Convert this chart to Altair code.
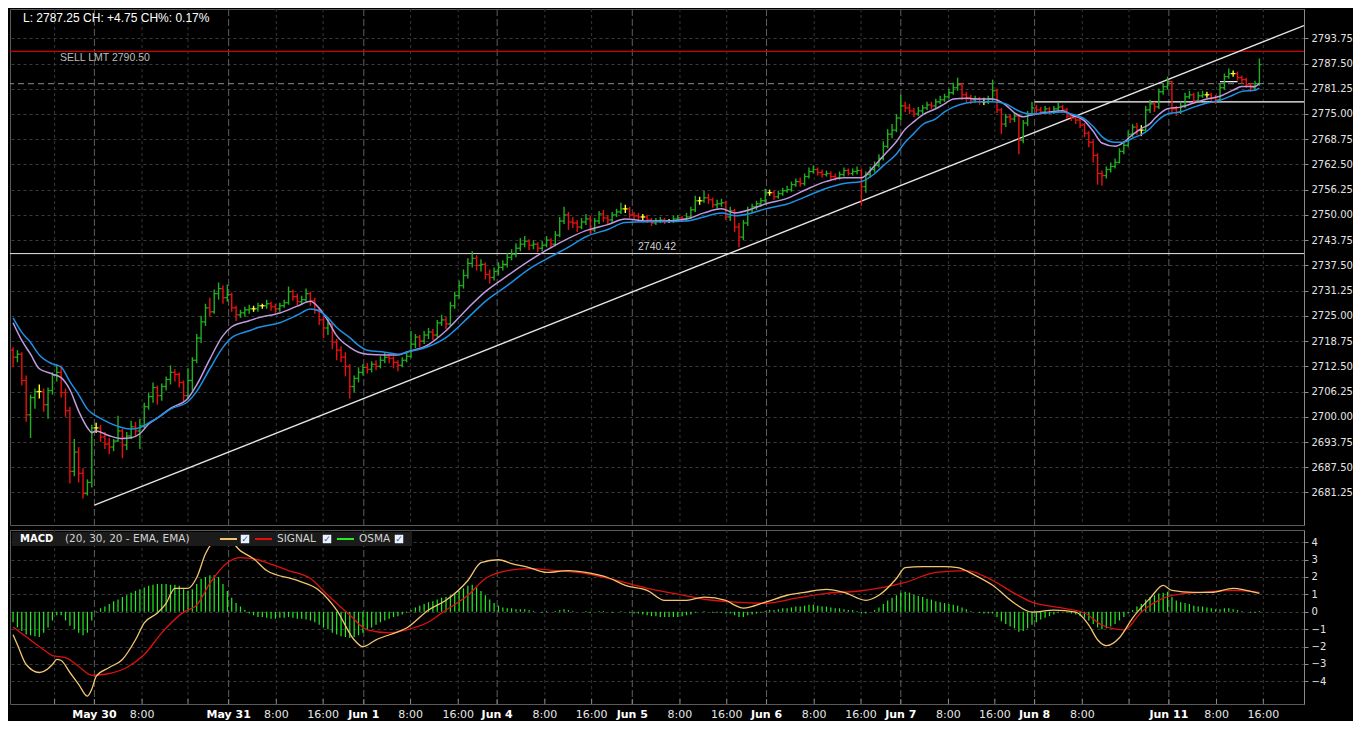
import altair as alt
import pandas as pd

# ------------------------------------------------------------------ data
first_open = 2716.5
close = [
    2714.75, 2715.5, 2709.0, 2700.5, 2704.75, 2706.25, 2706.25, 2703.0, 2706.5, 2710.25,
    2711.0, 2706.0, 2701.5, 2686.5, 2691.25, 2686.0, 2681.0, 2683.75, 2697.25, 2697.25,
    2695.0, 2693.25, 2692.5, 2694.0, 2696.5, 2693.0, 2695.25, 2697.5, 2696.5, 2697.75,
    2702.5, 2705.0, 2707.25, 2705.25, 2707.5, 2709.25, 2711.0, 2710.5, 2708.5, 2705.25,
    2709.0, 2714.0, 2719.5, 2723.5, 2727.0, 2726.0, 2730.5, 2731.75, 2729.5, 2730.25,
    2727.0, 2725.25, 2725.75, 2726.5, 2726.75, 2726.75, 2727.5, 2727.5, 2728.0, 2727.25,
    2726.75, 2727.5, 2728.25, 2731.0, 2729.75, 2728.5, 2729.0, 2730.5, 2728.75, 2726.5,
    2724.0, 2722.0, 2723.0, 2718.5, 2716.5, 2714.75, 2712.5, 2707.5, 2709.5, 2711.0,
    2712.25, 2711.75, 2713.0, 2712.5, 2714.0, 2714.75, 2714.5, 2713.5, 2712.75, 2714.0,
    2715.0, 2718.0, 2719.75, 2718.75, 2720.25, 2721.0, 2720.25, 2723.25, 2724.0, 2723.0,
    2727.5, 2730.0, 2732.5, 2735.0, 2738.0, 2739.25, 2737.5, 2737.75, 2735.25, 2734.5,
    2736.0, 2737.0, 2737.75, 2739.5, 2740.25, 2741.75, 2742.75, 2743.5, 2742.5, 2742.75,
    2741.75, 2742.5, 2743.75, 2742.75, 2745.0, 2748.5, 2750.0, 2748.25, 2748.0, 2747.0,
    2748.25, 2749.0, 2746.25, 2748.5, 2750.25, 2749.25, 2748.75, 2750.0, 2750.75, 2751.5,
    2751.5, 2750.0, 2749.75, 2749.5, 2749.5, 2748.75, 2748.0, 2748.5, 2748.75, 2748.5,
    2748.5, 2749.0, 2749.25, 2749.0, 2749.5, 2751.25, 2753.5, 2753.5, 2754.25, 2753.75,
    2752.5, 2752.75, 2753.0, 2749.5, 2751.0, 2747.0, 2744.5, 2748.0, 2751.25, 2752.0,
    2752.75, 2753.5, 2755.5, 2755.5, 2754.5, 2755.25, 2756.0, 2756.25, 2757.5, 2758.25,
    2757.75, 2759.5, 2760.75, 2761.25, 2760.5, 2760.0, 2760.25, 2759.5, 2759.25, 2760.0,
    2761.0, 2760.25, 2760.75, 2761.0, 2757.0, 2760.0, 2761.25, 2762.25, 2764.0, 2767.0,
    2770.0, 2771.0, 2774.0, 2777.0, 2776.5, 2775.75, 2775.0, 2775.75, 2776.5, 2777.25,
    2777.0, 2778.0, 2778.5, 2779.25, 2780.25, 2781.5, 2782.25, 2779.75, 2779.0, 2778.5,
    2778.75, 2778.0, 2778.0, 2778.75, 2780.75, 2776.0, 2772.5, 2774.25, 2773.75, 2774.5,
    2768.5, 2772.75, 2775.0, 2776.5, 2776.0, 2775.5, 2776.25, 2775.5, 2776.25, 2776.75,
    2776.0, 2774.5, 2774.0, 2773.5, 2772.25, 2770.25, 2768.0, 2764.75, 2760.25, 2759.75,
    2761.25, 2762.0, 2763.0, 2765.75, 2767.25, 2770.0, 2771.75, 2771.0, 2771.0, 2776.0,
    2777.5, 2776.75, 2780.5, 2781.75, 2783.0, 2776.25, 2775.5, 2777.0, 2779.25, 2779.75,
    2778.25, 2779.5, 2779.75, 2779.75, 2779.0, 2778.5, 2781.5, 2784.25, 2785.0, 2785.0,
    2784.0, 2783.5, 2782.25, 2781.5, 2782.5, 2787.25,
]
high = [
    2717.25, 2716.5, 2716.0, 2710.25, 2705.5, 2707.0, 2708.0, 2707.0, 2707.25, 2711.0,
    2713.0, 2712.75, 2707.0, 2702.5, 2694.5, 2692.5, 2687.25, 2684.5, 2698.0, 2698.5,
    2698.0, 2696.25, 2694.75, 2694.5, 2700.25, 2697.0, 2696.25, 2699.0, 2698.75, 2699.5,
    2703.5, 2706.0, 2708.5, 2707.75, 2708.25, 2710.0, 2712.75, 2711.75, 2711.0, 2709.0,
    2712.0, 2714.75, 2720.5, 2725.0, 2728.0, 2729.5, 2731.5, 2733.25, 2732.5, 2732.75,
    2730.75, 2727.5, 2726.5, 2727.25, 2727.75, 2727.5, 2728.25, 2728.0, 2729.0, 2728.5,
    2728.0, 2728.25, 2729.0, 2732.25, 2731.5, 2730.5, 2730.0, 2731.75, 2731.0, 2729.5,
    2727.0, 2725.0, 2724.25, 2723.5, 2719.25, 2717.5, 2716.0, 2713.0, 2710.25, 2712.25,
    2713.0, 2713.25, 2713.75, 2714.0, 2715.0, 2716.0, 2715.5, 2715.0, 2714.0, 2714.75,
    2716.25, 2721.25, 2720.5, 2720.25, 2721.25, 2722.0, 2721.75, 2724.0, 2725.25, 2724.75,
    2728.5, 2731.0, 2733.75, 2736.5, 2739.25, 2741.0, 2740.0, 2739.0, 2738.25, 2736.5,
    2737.0, 2738.25, 2738.75, 2740.5, 2741.5, 2743.0, 2744.25, 2744.75, 2744.0, 2743.75,
    2743.25, 2743.5, 2744.75, 2744.25, 2746.0, 2749.5, 2752.0, 2750.75, 2749.5, 2748.75,
    2749.25, 2750.25, 2749.75, 2749.25, 2751.0, 2751.25, 2750.0, 2750.75, 2751.5, 2753.0,
    2752.5, 2752.0, 2750.75, 2750.5, 2750.25, 2750.0, 2749.25, 2749.25, 2749.5, 2749.25,
    2749.0, 2749.75, 2750.0, 2749.75, 2750.5, 2752.0, 2754.75, 2754.5, 2756.0, 2755.25,
    2754.25, 2753.75, 2754.0, 2753.5, 2752.0, 2751.5, 2748.0, 2748.75, 2752.0, 2752.75,
    2753.5, 2754.25, 2756.5, 2756.25, 2756.0, 2756.0, 2756.75, 2757.25, 2758.25, 2759.0,
    2759.25, 2760.25, 2761.75, 2762.25, 2761.75, 2761.25, 2761.0, 2760.75, 2760.25, 2760.75,
    2761.75, 2761.5, 2761.5, 2762.0, 2761.5, 2760.75, 2762.0, 2763.25, 2765.0, 2768.25,
    2771.25, 2772.5, 2775.0, 2779.75, 2778.0, 2777.5, 2776.5, 2776.75, 2777.25, 2778.0,
    2778.0, 2778.75, 2779.5, 2780.0, 2781.25, 2782.75, 2784.0, 2782.75, 2780.5, 2779.75,
    2779.5, 2779.25, 2779.0, 2779.5, 2783.5, 2781.25, 2776.5, 2775.0, 2775.0, 2775.25,
    2775.0, 2773.5, 2775.75, 2778.0, 2777.25, 2776.75, 2777.0, 2776.75, 2777.0, 2777.75,
    2777.25, 2776.5, 2775.0, 2774.75, 2774.0, 2772.75, 2770.75, 2768.5, 2765.25, 2761.0,
    2762.0, 2763.0, 2764.0, 2766.5, 2768.25, 2771.0, 2772.5, 2772.75, 2772.25, 2777.0,
    2778.5, 2778.0, 2781.25, 2782.5, 2784.25, 2783.25, 2777.0, 2778.0, 2780.25, 2780.75,
    2780.25, 2780.5, 2780.75, 2780.5, 2780.25, 2779.75, 2782.5, 2785.0, 2786.25, 2785.75,
    2785.5, 2784.5, 2784.0, 2782.75, 2783.25, 2788.75,
]
low = [
    2712.25, 2713.5, 2707.75, 2698.75, 2694.75, 2702.0, 2704.5, 2701.25, 2699.5, 2705.5,
    2708.75, 2704.75, 2700.0, 2683.5, 2685.25, 2683.75, 2679.75, 2680.5, 2682.5, 2696.0,
    2693.75, 2692.0, 2690.75, 2691.5, 2693.75, 2689.75, 2691.75, 2694.5, 2695.25, 2692.0,
    2697.25, 2701.75, 2703.5, 2703.0, 2704.0, 2706.5, 2708.0, 2708.75, 2707.25, 2703.75,
    2704.5, 2706.5, 2713.25, 2718.25, 2722.5, 2724.75, 2725.5, 2729.0, 2728.0, 2728.5,
    2726.0, 2723.75, 2724.5, 2724.75, 2725.5, 2726.0, 2726.0, 2726.75, 2726.75, 2726.25,
    2725.75, 2726.0, 2727.0, 2727.75, 2728.75, 2727.5, 2727.75, 2728.5, 2727.5, 2725.5,
    2722.75, 2719.5, 2720.25, 2716.75, 2714.0, 2713.5, 2710.0, 2704.5, 2706.0, 2708.5,
    2710.25, 2710.75, 2711.0, 2711.5, 2712.0, 2713.25, 2713.25, 2712.0, 2711.25, 2712.25,
    2713.5, 2714.5, 2717.0, 2717.25, 2718.0, 2719.25, 2719.0, 2719.75, 2722.5, 2721.75,
    2722.5, 2726.75, 2729.25, 2731.75, 2734.25, 2737.0, 2736.25, 2736.0, 2734.0, 2733.0,
    2733.75, 2735.0, 2736.25, 2737.0, 2738.75, 2739.5, 2741.0, 2742.0, 2741.25, 2741.5,
    2740.75, 2741.0, 2742.0, 2741.75, 2742.25, 2744.5, 2747.75, 2746.25, 2746.75, 2745.75,
    2746.5, 2747.5, 2745.25, 2745.75, 2747.75, 2748.25, 2747.5, 2748.0, 2749.5, 2750.25,
    2750.5, 2749.25, 2749.0, 2748.5, 2748.75, 2748.0, 2747.25, 2747.5, 2748.0, 2747.75,
    2748.0, 2748.0, 2748.5, 2748.25, 2748.5, 2749.0, 2750.75, 2752.5, 2753.0, 2752.75,
    2751.75, 2751.5, 2752.0, 2748.75, 2748.5, 2745.75, 2742.0, 2743.75, 2747.25, 2750.5,
    2751.25, 2752.0, 2753.0, 2754.75, 2753.75, 2754.0, 2754.75, 2755.5, 2755.75, 2757.0,
    2757.0, 2757.25, 2759.0, 2760.25, 2759.75, 2759.25, 2759.5, 2758.75, 2758.5, 2758.75,
    2759.5, 2759.75, 2759.75, 2760.0, 2752.25, 2755.5, 2759.25, 2760.5, 2761.75, 2763.5,
    2766.5, 2769.0, 2770.5, 2773.5, 2775.5, 2775.0, 2774.25, 2774.5, 2775.0, 2776.0,
    2776.25, 2776.5, 2777.5, 2778.0, 2778.75, 2779.75, 2780.75, 2778.5, 2778.0, 2777.5,
    2777.75, 2777.25, 2777.25, 2777.5, 2778.25, 2775.25, 2770.0, 2771.75, 2772.75, 2773.0,
    2765.0, 2767.75, 2772.0, 2774.5, 2775.25, 2774.75, 2775.0, 2774.75, 2775.0, 2775.75,
    2775.25, 2773.75, 2773.25, 2772.5, 2771.5, 2769.25, 2766.75, 2763.0, 2757.5, 2757.25,
    2759.0, 2760.5, 2761.5, 2762.75, 2765.0, 2766.75, 2769.25, 2769.75, 2769.5, 2770.5,
    2775.25, 2775.5, 2776.25, 2779.75, 2781.0, 2775.25, 2774.5, 2775.0, 2776.5, 2778.75,
    2777.75, 2777.75, 2779.0, 2779.0, 2778.25, 2777.5, 2778.0, 2781.0, 2783.75, 2784.25,
    2783.25, 2782.5, 2781.5, 2780.5, 2780.75, 2782.0,
]
osma = [
    -0.6, -0.9, -1.1, -1.3, -1.35, -1.4, -1.45, -1.2, -0.9, -0.5,
    -0.2, -0.2, -0.5, -0.8, -1.0, -1.2, -1.35, -1.2, -0.5, 0.05,
    0.2, 0.3, 0.45, 0.6, 0.7, 0.85, 0.95, 1.1, 1.2, 1.3,
    1.4, 1.5, 1.55, 1.6, 1.6, 1.6, 1.55, 1.55, 1.5, 1.3,
    1.2, 1.3, 1.6, 1.9, 2.0, 2.1, 2.1, 2.0, 1.6, 1.2,
    0.8, 0.5, 0.3, 0.1, -0.1, -0.2, -0.3, -0.3, -0.35, -0.4,
    -0.4, -0.35, -0.35, -0.3, -0.35, -0.4, -0.4, -0.45, -0.5, -0.6,
    -0.75, -0.9, -1.0, -1.2, -1.3, -1.4, -1.45, -1.5, -1.45, -1.35,
    -1.2, -1.05, -0.9, -0.75, -0.6, -0.5, -0.4, -0.3, -0.25, -0.15,
    -0.05, 0.1, 0.25, 0.35, 0.45, 0.55, 0.6, 0.7, 0.8, 0.85,
    0.95, 1.05, 1.2, 1.35, 1.5, 1.55, 1.4, 1.2, 0.95, 0.7,
    0.5, 0.35, 0.25, 0.2, 0.2, 0.15, 0.15, 0.15, 0.1, 0.05,
    0.0, -0.05, 0.05, 0.0, 0.05, 0.1, 0.15, 0.1, 0.05, 0.0,
    0.0, 0.05, -0.05, 0.0, 0.05, 0.05, 0.0, -0.05, 0.0, 0.05,
    0.0, -0.05, -0.1, -0.1, -0.15, -0.2, -0.25, -0.25, -0.3, -0.3,
    -0.3, -0.3, -0.3, -0.25, -0.2, -0.15, -0.05, 0.0, 0.05, 0.0,
    -0.05, -0.05, -0.05, -0.1, -0.1, -0.2, -0.3, -0.3, -0.2, -0.15,
    -0.1, -0.05, 0.05, 0.1, 0.1, 0.15, 0.2, 0.2, 0.25, 0.3,
    0.3, 0.35, 0.4, 0.4, 0.35, 0.3, 0.3, 0.25, 0.2, 0.2,
    0.15, 0.1, 0.1, 0.05, -0.1, -0.1, 0.0, 0.1, 0.25, 0.45,
    0.65, 0.8, 0.95, 1.1, 1.15, 1.1, 1.0, 0.9, 0.85, 0.75,
    0.7, 0.6, 0.55, 0.5, 0.45, 0.4, 0.35, 0.25, 0.15, 0.05,
    0.0, -0.05, -0.1, -0.1, -0.1, -0.3, -0.55, -0.7, -0.85, -0.95,
    -1.15, -1.1, -0.95, -0.75, -0.6, -0.45, -0.35, -0.25, -0.15, -0.05,
    0.0, -0.05, -0.1, -0.15, -0.25, -0.35, -0.5, -0.7, -0.9, -1.0,
    -0.95, -0.85, -0.7, -0.5, -0.3, -0.1, 0.1, 0.3, 0.45, 0.7,
    0.85, 0.95, 1.05, 1.1, 1.15, 0.85, 0.65, 0.55, 0.5, 0.45,
    0.35, 0.3, 0.3, 0.25, 0.2, 0.15, 0.15, 0.2, 0.2, 0.15,
    0.1, 0.05, 0.0, -0.05, -0.05, 0.05,
]

ema_t = [
    0, 2, 4, 6, 9, 11, 13, 15, 17, 18,
    19, 22, 25, 27, 29, 31, 33, 36, 40, 42,
    45, 48, 50, 54, 56, 61, 65, 68, 70, 72,
    74, 77, 79, 81, 85, 88, 90, 95, 99, 104,
    108, 113, 118, 122, 127, 131, 136, 140, 145, 149,
    154, 158, 162, 165, 169, 172, 177, 181, 186, 190,
    194, 197, 199, 202, 204, 206, 208, 211, 213, 215,
    218, 221, 224, 227, 229, 231, 233, 237, 240, 242,
    245, 247, 249, 252, 254, 256, 258, 260, 261, 264,
    267, 270, 273, 276, 279, 281, 284, 285,
]
ema_fast = [
    2723.3, 2718.9, 2715.5, 2711.9, 2710.6, 2709.7, 2706.7, 2701.4, 2697.3, 2696.1,
    2696.5, 2695.3, 2694.6, 2694.8, 2695.8, 2698.2, 2699.7, 2702.1, 2704.6, 2707.9,
    2714.3, 2720.1, 2722.3, 2723.8, 2724.5, 2725.7, 2727.4, 2728.6, 2726.9, 2723.8,
    2720.1, 2717.2, 2716.0, 2715.5, 2715.3, 2715.3, 2716.0, 2717.9, 2721.3, 2726.9,
    2731.0, 2734.9, 2738.6, 2741.3, 2744.2, 2746.1, 2747.6, 2749.0, 2748.5, 2748.5,
    2749.0, 2750.5, 2751.5, 2750.5, 2751.5, 2752.7, 2754.1, 2756.1, 2758.3, 2759.2,
    2759.2, 2762.2, 2764.6, 2768.2, 2771.2, 2773.1, 2774.8, 2776.3, 2777.5, 2778.7,
    2778.9, 2778.7, 2778.7, 2777.2, 2775.3, 2774.3, 2774.8, 2775.5, 2775.8, 2774.8,
    2773.3, 2770.7, 2767.8, 2767.0, 2768.0, 2769.9, 2771.4, 2772.6, 2773.8, 2776.3,
    2776.7, 2777.7, 2778.7, 2779.4, 2780.9, 2781.8, 2781.8, 2782.6,
]
ema_slow = [
    2724.5, 2720.9, 2718.4, 2715.3, 2713.1, 2712.3, 2708.7, 2705.5, 2701.9, 2700.9,
    2700.2, 2698.5, 2697.3, 2697.0, 2697.3, 2698.5, 2699.7, 2701.9, 2703.8, 2706.3,
    2711.9, 2717.2, 2719.6, 2721.3, 2722.1, 2723.3, 2725.2, 2726.7, 2726.2, 2724.5,
    2722.1, 2719.6, 2717.7, 2716.5, 2716.0, 2715.5, 2716.0, 2717.4, 2719.6, 2724.5,
    2728.6, 2732.5, 2736.6, 2739.1, 2742.0, 2744.6, 2746.4, 2748.1, 2748.3, 2748.3,
    2748.5, 2749.5, 2750.5, 2749.8, 2750.5, 2751.5, 2752.7, 2754.4, 2756.6, 2757.8,
    2758.3, 2760.2, 2762.2, 2765.1, 2768.0, 2770.2, 2772.4, 2773.8, 2775.5, 2776.7,
    2777.7, 2778.0, 2778.0, 2777.5, 2776.3, 2775.3, 2775.0, 2775.3, 2775.5, 2775.0,
    2773.8, 2771.9, 2769.4, 2768.0, 2768.0, 2769.0, 2769.9, 2771.4, 2772.6, 2775.0,
    2775.5, 2776.7, 2777.7, 2778.4, 2779.7, 2780.6, 2780.9, 2781.4,
]

macd_t = [
    0, 1, 3, 6, 7, 9, 10, 11, 13, 15,
    17, 18, 19, 22, 25, 28, 30, 33, 35, 37,
    40, 42, 44, 47, 49, 52, 55, 58, 65, 70,
    74, 78, 80, 83, 88, 90, 95, 99, 104, 107,
    111, 114, 118, 122, 127, 131, 136, 140, 145, 149,
    154, 158, 163, 165, 167, 172, 177, 181, 186, 190,
    195, 198, 202, 204, 208, 213, 216, 220, 224, 229,
    233, 238, 243, 246, 248, 250, 253, 256, 260, 263,
    265, 270, 274, 279, 282, 285,
]
macd_v = [
    -1.32, -1.89, -3.03, -3.49, -3.43, -3.03, -2.74, -2.80, -3.49, -4.17,
    -4.85, -4.45, -3.71, -3.20, -2.74, -1.61, -0.64, -0.07, 0.49, 1.35,
    1.35, 1.97, 3.33, 4.19, 4.19, 3.50, 3.05, 2.37, 1.80, 1.23,
    0.10, -1.61, -2.01, -1.61, -1.15, -0.93, 0.10, 0.66, 1.80, 2.82,
    2.99, 2.77, 2.54, 2.26, 2.37, 2.26, 1.97, 1.52, 1.23, 0.66,
    0.66, 0.84, 0.66, 0.38, 0.21, 0.55, 0.95, 1.12, 1.29, 1.12,
    0.66, 0.95, 1.91, 2.54, 2.60, 2.60, 2.54, 2.09, 1.52, 0.49,
    -0.02, 0.10, -0.02, -0.76, -1.61, -1.95, -1.49, -0.36, 0.78, 1.52,
    1.23, 1.12, 1.12, 1.35, 1.23, 1.06,
]
sig_t = [
    0, 3, 7, 9, 12, 15, 18, 21, 26, 30,
    34, 39, 42, 45, 49, 52, 56, 58, 63, 68,
    72, 77, 81, 86, 90, 95, 99, 104, 108, 113,
    118, 124, 131, 138, 145, 152, 158, 165, 172, 179,
    186, 193, 199, 204, 211, 218, 224, 229, 233, 240,
    245, 249, 254, 258, 263, 268, 272, 279, 285,
]
sig_v = [
    -0.87, -1.44, -2.18, -2.52, -2.63, -3.14, -3.65, -3.59, -3.20, -2.46,
    -1.21, -0.02, 0.38, 1.63, 2.82, 3.11, 2.99, 2.82, 2.37, 1.91,
    0.95, -0.19, -1.04, -1.21, -1.04, -0.59, 0.10, 0.95, 1.91, 2.37,
    2.48, 2.37, 2.20, 1.80, 1.35, 1.01, 0.72, 0.55, 0.49, 0.78,
    1.06, 1.18, 1.40, 1.69, 2.26, 2.37, 1.80, 1.06, 0.55, 0.21,
    -0.07, -0.76, -1.04, -0.02, 0.78, 1.06, 1.12, 1.23, 1.12,
]

price_ticks = [2681.25, 2687.50, 2693.75, 2700.00, 2706.25, 2712.50, 2718.75,
               2725.00, 2731.25, 2737.50, 2743.75, 2750.00, 2756.25, 2762.50,
               2768.75, 2775.00, 2781.25, 2787.50, 2793.75]
macd_ticks = [-4, -3, -2, -1, 0, 1, 2, 3, 4]

time_pos = [9.5, 18.6, 29.5, 40.0, 49.3, 60.2, 70.9, 80.2, 90.9, 101.8,
            110.7, 121.6, 132.3, 141.6, 152.5, 163.2, 172.3, 183.2, 193.9, 203.0,
            213.9, 224.5, 233.6, 244.5, 255.2, 264.3, 275.2, 285.9]
time_label = ["", "May 30", "8:00", "", "May 31", "8:00", "16:00", "Jun 1", "8:00", "16:00",
              "Jun 4", "8:00", "16:00", "Jun 5", "8:00", "16:00", "Jun 6", "8:00", "16:00", "Jun 7",
              "8:00", "16:00", "Jun 8", "8:00", "", "Jun 11", "8:00", "16:00"]
time_kind = ["time", "day", "time", "time", "day", "time", "time", "day", "time", "time",
             "day", "time", "time", "day", "time", "time", "day", "time", "time", "day",
             "time", "time", "day", "time", "time", "day", "time", "time"]

prev_close = 2782.50
sell_limit = 2790.50
support_level = 2740.42
resist_level = 2778.0
resist_start = 233.6
high_mark_t = [276, 280]
high_mark_p = 2783.0
trend_t = [18.6, 295.2]
trend_p = [2678.1, 2796.9]

header_text = "L: 2787.25 CH: +4.75 CH%: 0.17%"
sell_text = "SELL LMT 2790.50"
support_text = "2740.42"
legend_title = "MACD"
legend_params = "(20, 30, 20 - EMA, EMA)"
legend_names = ["SIGNAL", "OSMA"]

assert len(close) == len(high) == len(low) == len(osma)
assert len(ema_t) == len(ema_fast) == len(ema_slow)
assert len(macd_t) == len(macd_v) and len(sig_t) == len(sig_v)

# ------------------------------------------------------------------ frames
N = len(close)
opens = [first_open] + close[:-1]
dirs = ["up" if c > o else ("down" if c < o else "flat") for o, c in zip(opens, close)]
bars = pd.DataFrame({"t": list(range(N)), "open": opens, "close": close,
                     "high": high, "low": low, "dir": dirs, "osma": osma})
ema_df = pd.DataFrame({"t": ema_t, "fast": ema_fast, "slow": ema_slow})
macd_df = pd.DataFrame({"t": macd_t, "v": macd_v})
sig_df = pd.DataFrame({"t": sig_t, "v": sig_v})
ticks = pd.DataFrame({"pos": time_pos, "label": time_label, "kind": time_kind})
one = pd.DataFrame({"k": [0]})

# ------------------------------------------------------------------ styles
W, H1, H2 = 1294, 516, 174
FONT = "DejaVu Sans"
GREEN, RED, YELLOW = "#1fb01f", "#e81010", "#ffff33"
GRID = "#3a3a3a"

xscale = alt.Scale(domain=[-0.7, 295.2], nice=False, zero=False)
yscale = alt.Scale(domain=[2673.2, 2801.0], nice=False, zero=False)
mscale = alt.Scale(domain=[-5.3, 4.7], nice=False, zero=False)

yaxis = alt.Axis(orient="right", values=price_ticks, format=".2f", title=None,
                 grid=True, gridColor=GRID, gridDash=[3, 3], domainColor="#8a8a8a",
                 tickColor="#8a8a8a", tickSize=4, labelColor="#e4e4e4", labelFont=FONT,
                 labelFontSize=10, labelPadding=3)
maxis = alt.Axis(orient="right", values=macd_ticks, format="d", title=None,
                 grid=True, gridColor=GRID, gridDash=[3, 3], domainColor="#8a8a8a",
                 tickColor="#8a8a8a", tickSize=4, labelColor="#e4e4e4", labelFont=FONT,
                 labelFontSize=10, labelPadding=3)


def X(f):
    return alt.X(f, type="quantitative", scale=xscale, axis=None)


def YP(f):
    return alt.Y(f, type="quantitative", scale=yscale, axis=yaxis)


def YM(f):
    return alt.Y(f, type="quantitative", scale=mscale, axis=maxis)


color_enc = alt.Color("dir:N", scale=alt.Scale(domain=["up", "down", "flat"],
                                                 range=[GREEN, RED, YELLOW]), legend=None)

# ------------------------------------------------------------------ main panel
vgrid_time = alt.Chart(ticks).transform_filter("datum.kind == 'time'").mark_rule(
    color="#363636", strokeDash=[3, 3]).encode(x=X("pos"))
vgrid_day = alt.Chart(ticks).transform_filter("datum.kind == 'day'").mark_rule(
    color="#5e5e5e", strokeDash=[7, 3]).encode(x=X("pos"))

wick = alt.Chart(bars).mark_rule(strokeWidth=1.4).encode(
    x=X("t"), y=YP("low"), y2="high", color=color_enc)
otick = alt.Chart(bars).transform_calculate(tl="datum.t - 0.5").mark_rule(strokeWidth=1.3).encode(
    x=X("tl"), x2="t", y=YP("open"), color=color_enc)
ctick = alt.Chart(bars).transform_calculate(tr="datum.t + 0.5").mark_rule(strokeWidth=1.3).encode(
    x=X("t"), x2="tr", y=YP("close"), color=color_enc)

lvl_prev = alt.Chart(pd.DataFrame({"p": [prev_close]})).mark_rule(
    color="#8c8c8c", strokeDash=[6, 4]).encode(y=YP("p"))
lvl_sell = alt.Chart(pd.DataFrame({"p": [sell_limit]})).mark_rule(
    color="#d00000", strokeWidth=1.2).encode(y=YP("p"))
lvl_sup = alt.Chart(pd.DataFrame({"p": [support_level]})).mark_rule(
    color="#e8e8e8", strokeWidth=1).encode(y=YP("p"))
lvl_res = alt.Chart(pd.DataFrame({"t": [resist_start], "p": [resist_level]})).mark_rule(
    color="#ffffff", strokeWidth=1.2).encode(x=X("t"), x2=alt.value(W), y=YP("p"))
hi_mark = alt.Chart(pd.DataFrame({"t": [high_mark_t[0]], "t2": [high_mark_t[1]], "p": [high_mark_p]})).mark_rule(
    color="#ffffff", strokeWidth=1.2).encode(x=X("t"), x2="t2", y=YP("p"))
trend = alt.Chart(pd.DataFrame({"t": trend_t, "p": trend_p})).mark_line(
    color="#e6e6e6", strokeWidth=1.4, clip=True).encode(x=X("t"), y=YP("p"))

ema_fast_l = alt.Chart(ema_df).mark_line(color="#c09ae0", strokeWidth=1.5, interpolate="monotone").encode(
    x=X("t"), y=YP("fast"))
ema_slow_l = alt.Chart(ema_df).mark_line(color="#1e90e6", strokeWidth=1.5, interpolate="monotone").encode(
    x=X("t"), y=YP("slow"))

header = alt.Chart(one).mark_text(text=header_text, align="left", baseline="middle",
                                   color="#ffffff", font="Liberation Sans", fontSize=12).encode(
    x=alt.value(13), y=alt.value(9))
sell_lbl = alt.Chart(pd.DataFrame({"p": [sell_limit]})).mark_text(
    text=sell_text, align="left", baseline="top", dy=2, color="#bdbdbd",
    font="Liberation Sans", fontSize=10.5).encode(x=alt.value(50), y=YP("p"))
sup_lbl = alt.Chart(pd.DataFrame({"p": [support_level]})).mark_text(
    text=support_text, align="center", baseline="bottom", dy=-2, color="#cfcfcf",
    font="Liberation Sans", fontSize=10.5).encode(x=alt.value(647), y=YP("p"))

main = alt.layer(vgrid_time, vgrid_day, lvl_prev, lvl_sell, lvl_sup, lvl_res, hi_mark, trend,
                 wick, otick, ctick, ema_fast_l, ema_slow_l, header, sell_lbl, sup_lbl
                 ).properties(width=W, height=H1)

# ------------------------------------------------------------------ MACD panel
vgrid_time2 = alt.Chart(ticks).transform_filter("datum.kind == 'time'").mark_rule(
    color="#363636", strokeDash=[3, 3]).encode(x=X("pos"))
vgrid_day2 = alt.Chart(ticks).transform_filter("datum.kind == 'day'").mark_rule(
    color="#5e5e5e", strokeDash=[7, 3]).encode(x=X("pos"))

hist = alt.Chart(bars).transform_calculate(z="0").mark_rule(color="#22ee22", strokeWidth=1.2).encode(
    x=X("t"), y=YM("z:Q"), y2="osma")
sig_l = alt.Chart(sig_df).mark_line(color="#e01010", strokeWidth=1.3, interpolate="monotone").encode(
    x=X("t"), y=YM("v"))
macd_l = alt.Chart(macd_df).mark_line(color="#f3c66e", strokeWidth=1.3, interpolate="monotone").encode(
    x=X("t"), y=YM("v"))

leg_bg = alt.Chart(one).mark_rect(color="#1b1b1b").encode(
    x=alt.value(2), x2=alt.value(402), y=alt.value(2), y2=alt.value(16))
leg_title = alt.Chart(one).mark_text(text=legend_title, align="left", baseline="middle",
                                      color="#ffffff", font=FONT, fontSize=10, fontWeight="bold").encode(
    x=alt.value(10), y=alt.value(9))
leg_params = alt.Chart(one).mark_text(text=legend_params, align="left", baseline="middle",
                                       color="#d4d4d4", font=FONT, fontSize=10.5).encode(
    x=alt.value(55), y=alt.value(9))
leg_orange = alt.Chart(one).mark_rule(color="#f3c66e", strokeWidth=2).encode(
    x=alt.value(210), x2=alt.value(227), y=alt.value(9))
leg_red = alt.Chart(one).mark_rule(color="#e01010", strokeWidth=2).encode(
    x=alt.value(245), x2=alt.value(262), y=alt.value(9))
leg_green = alt.Chart(one).mark_rule(color="#22ee22", strokeWidth=2).encode(
    x=alt.value(327), x2=alt.value(344), y=alt.value(9))
leg_sig = alt.Chart(one).mark_text(text=legend_names[0], align="left", baseline="middle",
                                    color="#d4d4d4", font=FONT, fontSize=10.5).encode(
    x=alt.value(267), y=alt.value(9))
leg_osma = alt.Chart(one).mark_text(text=legend_names[1], align="left", baseline="middle",
                                     color="#d4d4d4", font=FONT, fontSize=10.5).encode(
    x=alt.value(349), y=alt.value(9))
box_df = pd.DataFrame({"bx": [235, 317, 389]})
leg_boxes = alt.Chart(box_df).mark_square(size=72, color="#eef3fb", opacity=1, filled=True).encode(
    x=alt.X("bx:Q", scale=None), y=alt.value(9))
leg_checks = alt.Chart(box_df).mark_text(text="✓", color="#1f5fc4", font=FONT, fontSize=9,
                                          fontWeight="bold", baseline="middle").encode(
    x=alt.X("bx:Q", scale=None), y=alt.value(9))

xlab_day = alt.Chart(ticks).transform_filter("datum.kind == 'day'").mark_text(
    baseline="middle", color="#ffffff", font=FONT, fontSize=11, fontWeight="bold").encode(
    x=X("pos"), y=alt.value(H2 + 11), text="label:N")
xlab_time = alt.Chart(ticks).transform_filter("datum.kind == 'time' && datum.label != ''").mark_text(
    baseline="middle", color="#e6e6e6", font=FONT, fontSize=11).encode(
    x=X("pos"), y=alt.value(H2 + 11), text="label:N")
xticks_in = alt.Chart(ticks).mark_rule(color="#8a8a8a").encode(
    x=X("pos"), y=alt.value(H2 - 5), y2=alt.value(H2))

macd = alt.layer(vgrid_time2, vgrid_day2, hist, sig_l, macd_l, leg_bg, leg_title, leg_params,
                 leg_orange, leg_red, leg_green, leg_sig, leg_osma, leg_boxes, leg_checks,
                 xlab_day, xlab_time, xticks_in).properties(width=W, height=H2)

chart = alt.vconcat(main, macd, spacing=3).properties(
    padding=0, background="#000000"
).configure_view(stroke="#5a5a5a", fill="#000000")

chart.save("out.html", embed_options={"renderer": "svg", "actions": False})
